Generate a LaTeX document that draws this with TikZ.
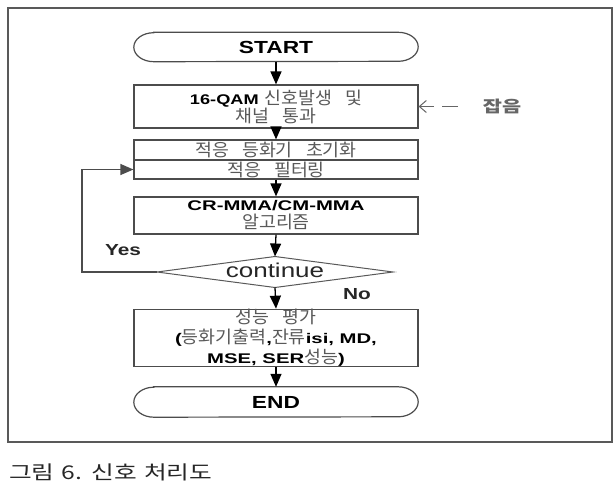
\documentclass[tikz,border=0pt]{standalone}
\usepackage{fontspec}
\setmainfont{Liberation Sans}[FakeStretch=1.3]
\newfontfamily\boxlat{Liberation Sans}[FakeStretch=1.45]
\newfontfamily\kofont{Noto Sans CJK KR}[FakeStretch=1.05, WordSpace=3.2, Scale=1.25]
\newfontfamily\capfont{Noto Sans CJK KR}[FakeStretch=1.3, WordSpace=1.3]
\usetikzlibrary{arrows.meta}
\newcommand{\ko}[1]{{\kofont\mdseries\color{black!65}#1}}
\newcommand{\termoutline}[2]{\draw[black!70,line width=1.2pt] ([xshift=20pt]#1.north west) -- ([xshift=-20pt]#1.north east) arc[start angle=90,end angle=-90,x radius=20pt,y radius=#2] -- ([xshift=20pt]#1.south west) arc[start angle=270,end angle=90,x radius=20pt,y radius=#2] -- cycle;}
\tikzset{
  box/.style={draw=black!70, line width=1.2pt, minimum width=284pt, align=center, inner sep=0pt, font=\boxlat\fontsize{14}{18}\selectfont\bfseries},
  term/.style={minimum width=284pt, inner sep=0pt, font=\fontsize{17.5}{20}\selectfont\bfseries},
  flow/.style={-{Triangle[length=13pt,width=11pt]}, line width=1.3pt},
  lbl/.style={font=\fontsize{16}{18}\selectfont\bfseries, text=black!85, inner sep=0pt},
}
\begin{document}
\begin{tikzpicture}[x=1pt,y=-1pt]
\useasboundingbox (0,0) rectangle (613,482);
\draw[black!65, line width=2pt] (8,8) rectangle (612,442);
% terminators
\node[term, minimum height=29pt] (start) at (276,47) {START};
\termoutline{start}{14.5pt}
\node[term, minimum height=30pt] (end) at (276,402) {END};
\termoutline{end}{15pt}
% boxes
\node[box, minimum height=43pt] (b1) at (276,106.5) {{\rmfamily\bfseries 16-QAM} \ko{신호발생 및}\\\ko{채널 통과}};
\node[box, minimum height=20pt] (b2a) at (276,150) {\ko{적응 등화기 초기화}};
\node[box, minimum height=19pt] (b2b) at (276,169.5) {\ko{적응 필터링}};
\node[box, minimum height=37pt] (b3) at (276,215.5) {CR-MMA/CM-MMA\\\ko{알고리즘}};
\node[box, minimum height=54pt, font=\boxlat\fontsize{14}{20}\selectfont\bfseries] (b4) at (276,338) {\ko{성능 평가}\\(\ko{등화기출력},\ko{잔류}isi, MD,\\MSE, SER\ko{성능})};
% decision
\coordinate (dt) at (275,256.5);
\coordinate (db) at (275,287.5);
\coordinate (dl) at (157,272);
\coordinate (dr) at (393,272);
\draw[black!65, line width=1pt] (dt) -- (dr) -- (db) -- (dl) -- cycle;
\node[font=\fontsize{20}{22}\selectfont, text=black!85, inner sep=0pt] (dec) at (275,270) {continue};
% flow arrows
\draw[flow] (start.south) -- (b1.north);
\draw[flow] (b1.south) -- (b2a.north);
\draw[flow] (b2b.south) -- (b3.north);
\draw[flow] (b3.south) -- (dt);
\draw[flow] (db) -- (b4.north);
\draw[flow] (b4.south) -- (end.north);
% loop
\coordinate (lp) at (82,272);
\draw[flow, draw=black!70, line width=1.2pt] (dl) -- (lp) |- (b2b.west);
\node[lbl] (yes) at (123,250) {Yes};
\node[lbl] (no) at (357,294) {No};
% noise
\coordinate (nz) at (458,106.5);
\draw[black!60, line width=1pt, dash pattern=on 16pt off 8pt, -{Straight Barb[length=7pt,width=12pt]}] (nz) -- (b1.east);
\node[font=\capfont\bfseries\fontsize{16}{18}\selectfont, text=black!60, inner sep=0pt] (noise) at (502,106) {잡음};
% caption
\node[anchor=west, font=\capfont\fontsize{19}{21}\selectfont, text=black!85, inner sep=0pt] (cap) at (9,472) {그림 6. 신호 처리도};
\end{tikzpicture}
\end{document}
